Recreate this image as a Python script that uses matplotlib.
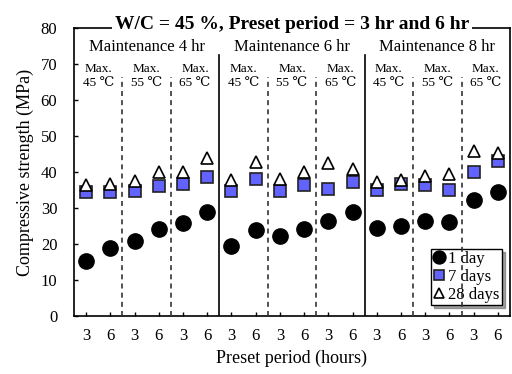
import numpy as np
import matplotlib
matplotlib.use('Agg')
import matplotlib.pyplot as plt

plt.rcParams['font.family'] = ['Liberation Serif', 'DejaVu Serif']

# 18 specimens: 3 maintenance times x 3 max temps x 2 preset periods
preset_labels = ['3', '6'] * 9
maintenance = ['Maintenance 4 hr', 'Maintenance 6 hr', 'Maintenance 8 hr']
max_temps = ['45 ℃', '55 ℃', '65 ℃'] * 3

day1 = [15.4, 18.8, 20.8, 24.3, 25.7, 29.0,
        19.5, 23.9, 22.3, 24.1, 26.5, 29.0,
        24.4, 25.0, 26.4, 26.0, 32.2, 34.4]
day7 = [34.4, 34.5, 34.7, 36.1, 36.6, 38.7,
        34.7, 38.0, 34.7, 36.4, 35.2, 37.3,
        35.0, 36.8, 36.4, 35.0, 39.9, 43.1]
day28 = [36.4, 36.8, 37.6, 40.1, 39.9, 43.8,
         37.8, 42.7, 38.0, 40.1, 42.4, 40.8,
         37.3, 37.8, 39.0, 39.4, 45.9, 45.4]

x = np.arange(len(day1)) + 0.5

fig = plt.figure(figsize=(5.12, 3.74), dpi=100)
ax = fig.add_axes([74/512, 58/374, 436/512, 288/374])

ax.plot(x, day1, 'o', color='black', markersize=11, label='1 day', zorder=3)
ax.plot(x, day7, 's', color='#6262ff', markeredgecolor='#222222', markeredgewidth=1.2,
        markersize=8.5, label='7 days', zorder=3)
ax.plot(x, day28, '^', color='white', markeredgecolor='black', markeredgewidth=1.2,
        markersize=9, label='28 days', zorder=3)

# separators
for xs in [6, 12]:
    ax.plot([xs, xs], [0, 72.5], color='black', lw=1.2, zorder=1)
for xs in [2, 4, 8, 10, 14, 16]:
    ax.plot([xs, xs], [0, 66.5], color='#333333', lw=1.2, ls=(0, (3, 2.5)), zorder=6)

for i, name in enumerate(maintenance):
    ax.text(6 * i + 3, 74.6, name, ha='center', va='center', fontsize=12)
for i, t in enumerate(max_temps):
    ax.text(2 * i + 1, 66.6, 'Max.\n' + t, ha='center', va='center', fontsize=9.5,
            linespacing=1.2)

ax.set_xlim(0, 18)
ax.set_ylim(0, 80)
ax.set_yticks(np.arange(0, 81, 10))
ax.set_xticks(x)
ax.set_xticklabels(preset_labels)
ax.tick_params(axis='both', direction='in', labelsize=12, length=3, width=1)
ax.tick_params(axis='x', pad=9)
ax.tick_params(axis='y', pad=12)
for s in ax.spines.values():
    s.set_linewidth(1.2)

ax.set_xlabel('Preset period (hours)', fontsize=13, labelpad=4)
ax.set_ylabel('Compressive strength (MPa)', fontsize=13, labelpad=5)

ax.text(0.5, 0.995, 'W/C = 45 %, Preset period = 3 hr and 6 hr', transform=ax.transAxes,
        ha='center', va='baseline', fontsize=14, fontweight='bold',
        bbox=dict(facecolor='white', edgecolor='none', pad=2))

leg = ax.legend(loc='lower right', bbox_to_anchor=(0.982, 0.038), borderaxespad=0,
                fancybox=False, shadow=True, edgecolor='black', fontsize=12,
                handlelength=0.7, handletextpad=0.2, borderpad=0.15, labelspacing=0.1,
                framealpha=1, markerscale=0.85)
leg.get_frame().set_linewidth(1.0)

fig.savefig('out.png', dpi=100)
